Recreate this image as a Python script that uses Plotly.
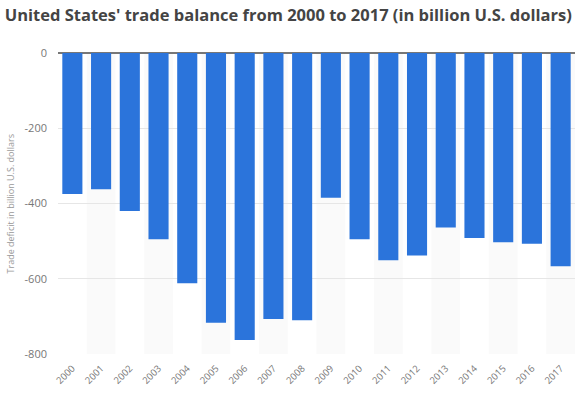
import plotly.graph_objects as go

years = [str(y) for y in range(2000, 2018)]
balance = [-375, -362, -420, -495, -612, -717, -763, -707, -710,
           -385, -495, -551, -538, -464, -492, -503, -507, -567]

y_ticks = [0, -200, -400, -600, -800]
y_title = "Trade deficit in billion U.S. dollars"

fig = go.Figure()
fig.add_trace(go.Bar(x=years, y=balance, marker=dict(color="#2b74db", line=dict(width=0)),
                     hoverinfo="x+y"))

shapes = []
for i, yr in enumerate(years):
    if i % 2 == 1:
        shapes.append(dict(type="rect", xref="x", yref="y", x0=i - 0.5, x1=i + 0.5,
                           y0=-800, y1=0, fillcolor="#fafafa", line=dict(width=0),
                           layer="below"))

fig.update_layout(
    width=586, height=394,
    margin=dict(l=58, r=11, t=53, b=40),
    paper_bgcolor="white", plot_bgcolor="white",
    title=dict(text="<b>United States' trade balance from 2000 to 2017 (in billion U.S. dollars)</b>",
               x=0.008, xanchor="left", y=0.962, yanchor="middle",
               font=dict(family="Open Sans", size=16.5, color="#444444")),
    font=dict(family="Open Sans", color="#666666"),
    bargap=0.3,
    shapes=shapes,
    showlegend=False,
    annotations=[dict(text=y_title, xref="paper", yref="paper", x=0, y=0.5,
                      xshift=-48, xanchor="center", yanchor="middle", textangle=-90,
                      showarrow=False, font=dict(size=9, color="#999999"))],
    xaxis=dict(type="category", tickangle=-45, tickfont=dict(size=9.5, color="#777777"),
               showgrid=False, showline=False, ticks="", range=[-0.5, 17.5],
               automargin=False, ticklabelstandoff=6),
    yaxis=dict(range=[-800, 0], tickvals=y_ticks, ticktext=[str(v) for v in y_ticks],
               tickfont=dict(size=11, color="#777777"), gridcolor="#e6e6e6",
               zeroline=True, zerolinecolor="#777777", zerolinewidth=1.5,
               ticklabelstandoff=10, automargin=False),
)

fig.write_html("out.html", config={"displayModeBar": False})
with open("out.html", "r", encoding="utf-8") as f:
    html = f.read()
html = html.replace("<body>", '<body style="margin:0;padding:0">', 1)
with open("out.html", "w", encoding="utf-8") as f:
    f.write(html)
